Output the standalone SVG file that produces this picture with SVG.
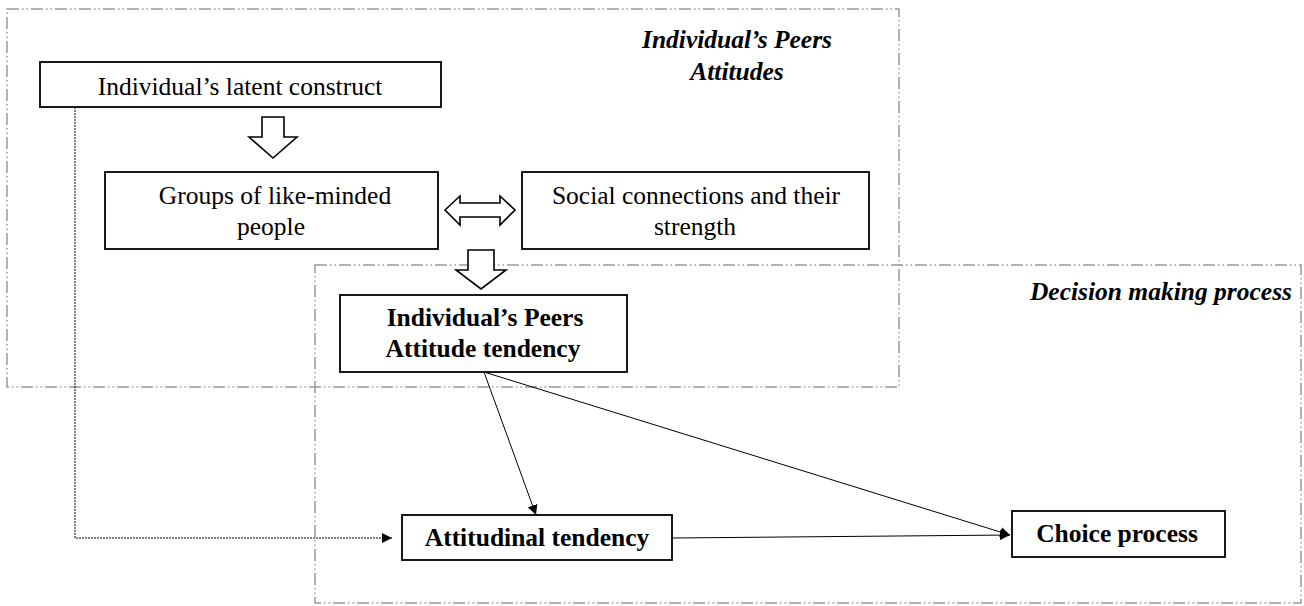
<svg xmlns="http://www.w3.org/2000/svg" width="1304" height="606" viewBox="0 0 1304 606">
<style>
.region{fill:none;stroke:#999;stroke-width:1.5;stroke-dasharray:12 3 1.5 3 1.5 3}
.box{fill:#fff;stroke:#000;stroke-width:1.8}
.bigarrow{fill:#fff;stroke:#000;stroke-width:1.6;stroke-linejoin:miter}
.t{font-family:"Liberation Serif","Times New Roman",serif;font-size:25.5px;fill:#000;text-anchor:middle}
.b{font-weight:bold}
.title{font-family:"Liberation Serif","Times New Roman",serif;font-size:25.5px;font-weight:bold;font-style:italic;fill:#000}
.con{fill:none;stroke:#000;stroke-width:1}
.dot{fill:none;stroke:#000;stroke-width:1;stroke-dasharray:2 1}
</style>
<defs>
<marker id="ah" viewBox="0 0 10 10" refX="10" refY="5" markerWidth="10" markerHeight="10" markerUnits="userSpaceOnUse" orient="auto">
<path d="M0,0 L10,5 L0,10 Z" fill="#000"/>
</marker>
</defs>
<rect width="1304" height="606" fill="#fff"/>
<g id="region-peers">
<rect class="region" x="7" y="9" width="892" height="378"/>
<text class="title" x="737" y="48" text-anchor="middle">Individual’s Peers</text>
<text class="title" x="737" y="80" text-anchor="middle">Attitudes</text>
</g>
<g id="region-decision">
<rect class="region" x="315" y="265" width="986" height="338"/>
<text class="title" x="1292" y="300" text-anchor="end">Decision making process</text>
</g>
<g id="big-arrows">
<path class="bigarrow" d="M262,117 L284,117 L284,137 L297,137 L273,158 L249,137 L262,137 Z"/>
<path class="bigarrow" d="M468,250 L494,250 L494,270 L506,270 L481,289 L456,270 L468,270 Z"/>
<path class="bigarrow" d="M445,210 L460,196 L460,203 L500,203 L500,196 L515,210 L500,225 L500,217 L460,217 L460,225 Z"/>
</g>
<g id="connectors">
<path class="dot" d="M75,107 L75,538 L392,538" marker-end="url(#ah)"/>
<line class="con" x1="484" y1="372" x2="536" y2="515" marker-end="url(#ah)"/>
<line class="con" x1="484" y1="372" x2="1010" y2="535" marker-end="url(#ah)"/>
<line class="con" x1="672" y1="538" x2="1010" y2="535" marker-end="url(#ah)"/>
</g>
<g id="node-latent">
<rect class="box" x="40" y="62" width="401" height="45"/>
<text class="t" x="240" y="95">Individual’s  latent construct</text>
</g>
<g id="node-groups">
<rect class="box" x="105" y="172" width="333" height="77"/>
<text class="t" x="275" y="204">Groups  of like-minded</text>
<text class="t" x="271" y="235">people</text>
</g>
<g id="node-social">
<rect class="box" x="522" y="172" width="347" height="77"/>
<text class="t" x="696" y="204">Social  connections  and  their</text>
<text class="t" x="695" y="235">strength</text>
</g>
<g id="node-peers-tendency">
<rect class="box" x="340" y="295" width="287" height="77"/>
<text class="t b" x="485" y="326">Individual’s  Peers</text>
<text class="t b" x="483" y="357">Attitude tendency</text>
</g>
<g id="node-attitudinal">
<rect class="box" x="402" y="515" width="270" height="45"/>
<text class="t b" x="537" y="546">Attitudinal tendency</text>
</g>
<g id="node-choice">
<rect class="box" x="1012" y="511" width="213" height="46"/>
<text class="t b" x="1117" y="542">Choice process</text>
</g>
</svg>
